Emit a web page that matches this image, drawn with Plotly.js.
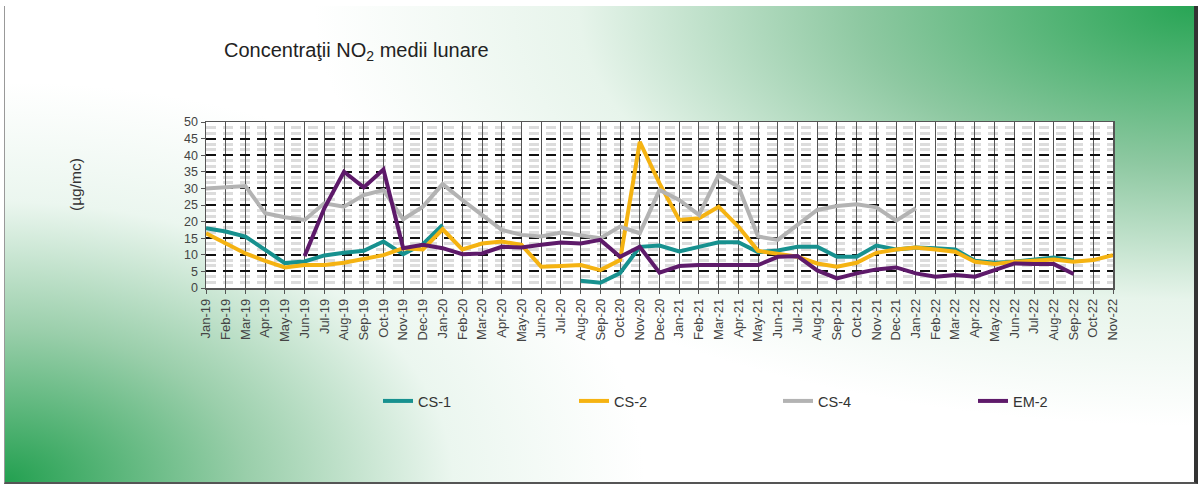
<!DOCTYPE html>
<html>
<head>
<meta charset="utf-8">
<script src="https://cdn.plot.ly/plotly-3.0.1.min.js"></script>
<style>
html,body{margin:0;padding:0;background:#fff;}
#bg{position:absolute;left:4px;top:6px;width:1189px;height:476px;
background:
 radial-gradient(ellipse 880px 420px at 100% 0%, rgba(40,165,85,1) 0%, rgba(110,185,135,0.78) 38%, rgba(195,228,205,0.4) 70%, rgba(255,255,255,0) 100%),
 radial-gradient(ellipse 640px 400px at 0% 100%, rgba(35,160,80,1) 0%, rgba(115,188,138,0.72) 38%, rgba(205,233,215,0.4) 70%, rgba(255,255,255,0) 100%),
 #fff;
border-right:4px solid #333;border-bottom:2px solid #555;border-left:1px solid #999;}
#chart{position:absolute;left:0;top:0;width:1198px;height:484px;}
</style>
</head>
<body>
<div id="bg"></div>
<div id="chart"></div>
<script>
const months = ["Jan-19","Feb-19","Mar-19","Apr-19","May-19","Jun-19","Jul-19","Aug-19","Sep-19","Oct-19","Nov-19","Dec-19",
"Jan-20","Feb-20","Mar-20","Apr-20","May-20","Jun-20","Jul-20","Aug-20","Sep-20","Oct-20","Nov-20","Dec-20",
"Jan-21","Feb-21","Mar-21","Apr-21","May-21","Jun-21","Jul-21","Aug-21","Sep-21","Oct-21","Nov-21","Dec-21",
"Jan-22","Feb-22","Mar-22","Apr-22","May-22","Jun-22","Jul-22","Aug-22","Sep-22","Oct-22","Nov-22"];

const cs1 = [18,17,15.5,11.5,7.5,8,9.8,10.6,11.2,14,10.2,13.2,
19,null,null,null,null,null,null,2.2,1.6,4.5,12.4,12.8,
11,12.4,13.8,13.8,10.8,11.3,12.4,12.4,9.4,9.4,12.8,11.6,
12.2,12,11.6,8.2,7.6,7.9,8.4,9.2,8.3,null,null];

const cs2 = [16.5,13.4,10.4,8.2,6.2,6.9,6.9,7.6,8.6,9.9,12,11.6,
17.7,11.6,13.4,14,13,6.4,6.6,6.9,5.4,8.4,44,31.5,
20.5,21,24.5,18.5,11.2,10.4,9.4,7.4,6.4,7.6,10.6,11.6,
12.2,11.6,10.9,7.9,7.2,7.9,8.4,8.6,7.9,8.4,9.9];

const cs4 = [30,30.2,30.7,22.5,21.3,20.5,25.5,24.5,28,29.5,20.7,24.5,
31.3,26.5,22,17.5,16,15.5,16.7,16,15,18.5,16.5,29.5,
26.5,22,34,30.5,15.5,14.5,19,23.5,24.7,25.2,24.3,20.3,
24,null,null,null,null,null,null,null,null,null,null];

const em2 = [null,null,null,null,null,9.6,24,35,30.3,35.7,12,13,
12,10.2,10.4,12.4,12.2,13,13.7,13.4,14.5,9.4,12.4,4.6,
6.6,6.9,6.8,6.8,6.9,9.4,9.6,5.3,2.9,4.4,5.6,6.2,
4.4,3.4,3.9,3.4,5.4,7.4,7.2,7.2,4.2,null,null];

const seriesNames = ["CS-1","CS-2","CS-4","EM-2"];
const seriesColors = ["#17918f","#f5b312","#b3b3b3","#5e1a6a"];
const seriesData = [cs1, cs2, cs4, em2];
const legendIds = ["legend","legend2","legend3","legend4"];

const traces = seriesData.map((d,i)=>({
  x: months, y: d, name: seriesNames[i], type:"scatter", mode:"lines",
  line:{color:seriesColors[i], width:4}, connectgaps:false, legend: legendIds[i]
}));

// legend text start pixels in the reference
const legendTextX = [420, 616, 820, 1015];

const layout = {
  width:1198, height:484,
  margin:{l:206, r:85, t:122, b:196},
  paper_bgcolor:"rgba(0,0,0,0)",
  plot_bgcolor:"#ffffff",
  font:{family:"Liberation Sans, Arial, sans-serif", color:"#333"},
  title:{text:"Concentraţii NO<sub>2</sub> medii lunare", x:224/1198, xanchor:"left", xref:"container",
         y:1-50/484, yanchor:"middle", yref:"container", font:{size:20, color:"#222"}},
  xaxis:{type:"category", range:[0,46], tickangle:-90, tickfont:{size:13, color:"#444"},
         showgrid:true, gridcolor:"#555", gridwidth:1, ticks:"outside", ticklen:4, tickcolor:"#555",
         showline:true, linecolor:"#555", linewidth:1.5, mirror:true, zeroline:false, automargin:false},
  yaxis:{range:[0,50], dtick:5, tickfont:{size:12.5, color:"#444"}, ticks:"outside", ticklen:4, tickcolor:"#555",
         showgrid:true, gridcolor:"#111", gridwidth:2, griddash:"10px,7px",
         minor:{dtick:5/3, showgrid:true, gridcolor:"#dcdcdc", gridwidth:3},
         showline:true, linecolor:"#555", linewidth:1.5, mirror:true, zeroline:false, automargin:false},
  showlegend:true,
  annotations:[{text:"(µg/mc)", xref:"paper", yref:"paper", x:(75-206)/907, y:(288-185)/166,
                textangle:-90, showarrow:false, font:{size:15.5, color:"#333"}, xanchor:"center", yanchor:"middle"}]
};
legendIds.forEach((id,i)=>{
  layout[id] = {orientation:"h", x:(legendTextX[i]-42-206)/907, xanchor:"left", y:(288-401)/166, yanchor:"middle",
                bgcolor:"rgba(0,0,0,0)", font:{size:14.5, color:"#333"}};
});

Plotly.newPlot("chart", traces, layout, {displayModeBar:false, staticPlot:true});
</script>
</body>
</html>
